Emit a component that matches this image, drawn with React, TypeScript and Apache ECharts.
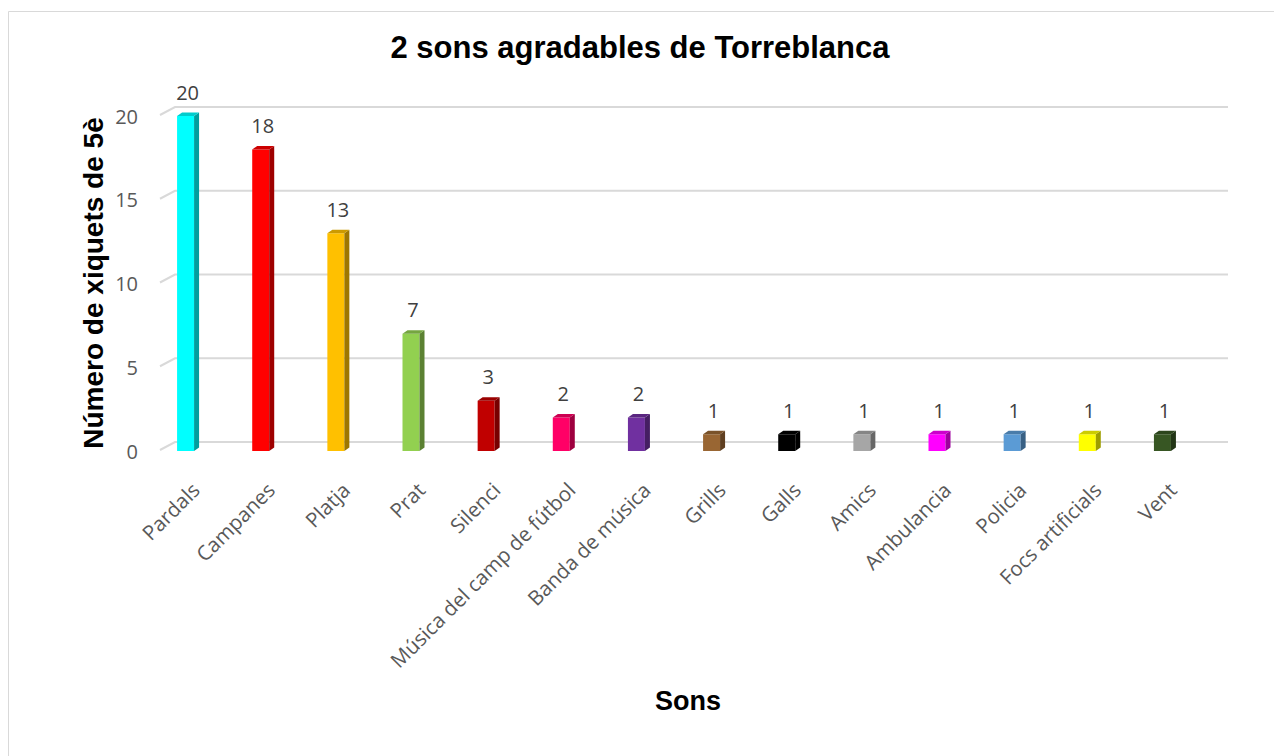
import React, { useEffect, useRef } from "react";
import * as echarts from "echarts";

const titleText = "2 sons agradables de Torreblanca";
const yAxisTitle = "Número de xiquets de 5è";
const xAxisTitle = "Sons";
const categories = [
  "Pardals",
  "Campanes",
  "Platja",
  "Prat",
  "Silenci",
  "Música del camp de fútbol",
  "Banda de música",
  "Grills",
  "Galls",
  "Amics",
  "Ambulancia",
  "Policia",
  "Focs artificials",
  "Vent",
];
const values = [20, 18, 13, 7, 3, 2, 2, 1, 1, 1, 1, 1, 1, 1];
const frontColors = [
  "#00FFFF", "#FF0000", "#FFC000", "#92D050", "#C00000", "#FF0066", "#7030A0",
  "#996633", "#000000", "#A6A6A6", "#FF00FF", "#5B9BD5", "#FFFF00", "#375623",
];
const yTicks = [0, 5, 10, 15, 20];

function shade(hex: string, f: number): string {
  const n = parseInt(hex.slice(1), 16);
  const r = Math.round(((n >> 16) & 255) * f);
  const g = Math.round(((n >> 8) & 255) * f);
  const b = Math.round((n & 255) * f);
  return "rgb(" + r + "," + g + "," + b + ")";
}

export default function App() {
  const ref = useRef<HTMLDivElement>(null);
  useEffect(() => {
    if (!ref.current) return;
    const chart = echarts.init(ref.current, null, { renderer: "svg" });
    const labelFont = "Open Sans";
    const option: any = {
      animation: false,
      backgroundColor: "#ffffff",
      grid: { left: 148, right: 74, top: 116, bottom: 305 },
      xAxis: {
        type: "category",
        data: categories,
        axisLine: { show: false },
        axisTick: { show: false },
        axisLabel: { show: false },
        splitLine: { show: false },
      },
      yAxis: {
        type: "value",
        min: 0,
        max: 20,
        interval: 5,
        axisLine: { show: false },
        axisTick: { show: false },
        splitLine: { show: false },
        axisLabel: {
          color: "#595959",
          fontSize: 20,
          fontFamily: labelFont,
          margin: 10,
          padding: [4, 0, 0, 0],
        },
      },
      graphic: [
        {
          type: "rect",
          shape: { x: 8.5, y: 11.5, width: 1400, height: 900 },
          style: { fill: "none", stroke: "#d9d9d9", lineWidth: 1 },
          z: -10,
        },
        {
          type: "text",
          x: 640,
          y: 47,
          style: {
            text: titleText,
            font: "bold 31px 'Liberation Sans', Arial, sans-serif",
            fill: "#000000",
            textAlign: "center",
            textVerticalAlign: "middle",
          },
        },
        {
          type: "text",
          x: 93,
          y: 283,
          rotation: Math.PI / 2,
          style: {
            text: yAxisTitle,
            font: "bold 28px 'Liberation Sans', Arial, sans-serif",
            fill: "#000000",
            textAlign: "center",
            textVerticalAlign: "middle",
          },
        },
        {
          type: "text",
          x: 688,
          y: 701,
          style: {
            text: xAxisTitle,
            font: "bold 27px 'Liberation Sans', Arial, sans-serif",
            fill: "#000000",
            textAlign: "center",
            textVerticalAlign: "middle",
          },
        },
      ],
      series: [
        {
          type: "custom",
          z: 1,
          data: yTicks.map((t) => [0, t]),
          renderItem: (params: any, api: any) => {
            const y = api.coord([0, api.value(1)])[1];
            const cs = params.coordSys;
            return {
              type: "polyline",
              shape: {
                points: [
                  [cs.x + 12, y - 1],
                  [cs.x + 27, y - 9],
                  [cs.x + cs.width + 28, y - 9],
                ],
              },
              style: { stroke: "#d9d9d9", lineWidth: 2, fill: "none" },
            };
          },
        },
        {
          type: "custom",
          z: 2,
          data: values.map((v, i) => [i, v]),
          renderItem: (params: any, api: any) => {
            const i = api.value(0);
            const v = api.value(1);
            const top = api.coord([i, v]);
            const base = api.coord([i, 0]);
            const cx = top[0];
            const w = 17;
            const dx = 5;
            const dy = 3.5;
            const l = cx - w / 2;
            const r = cx + w / 2;
            const c = frontColors[params.dataIndex];
            return {
              type: "group",
              children: [
                {
                  type: "rect",
                  shape: { x: l, y: top[1], width: w, height: base[1] - top[1] },
                  style: { fill: c },
                },
                {
                  type: "polygon",
                  shape: {
                    points: [
                      [r, top[1]],
                      [r + dx, top[1] - dy],
                      [r + dx, base[1] - dy],
                      [r, base[1]],
                    ],
                  },
                  style: { fill: shade(c, 0.62) },
                },
                {
                  type: "polygon",
                  shape: {
                    points: [
                      [l, top[1]],
                      [l + dx, top[1] - dy],
                      [r + dx, top[1] - dy],
                      [r, top[1]],
                    ],
                  },
                  style: { fill: shade(c, 0.8) },
                },
                {
                  type: "text",
                  x: cx + 2,
                  y: top[1] - 24,
                  style: {
                    text: String(v),
                    font: "20px 'Open Sans', sans-serif",
                    fill: "#404040",
                    textAlign: "center",
                    textVerticalAlign: "middle",
                  },
                },
                {
                  type: "text",
                  x: cx + 10,
                  y: base[1] + 35,
                  rotation: Math.PI / 4,
                  style: {
                    text: categories[params.dataIndex],
                    font: "20.5px 'Open Sans', sans-serif",
                    fill: "#595959",
                    textAlign: "right",
                    textVerticalAlign: "middle",
                  },
                },
              ],
            };
          },
        },
      ],
    };
    chart.setOption(option);
    return () => chart.dispose();
  }, []);
  return (
    <div
      ref={ref}
      style={{ position: "absolute", left: 0, top: 0, width: 1274, height: 756 }}
    />
  );
}
